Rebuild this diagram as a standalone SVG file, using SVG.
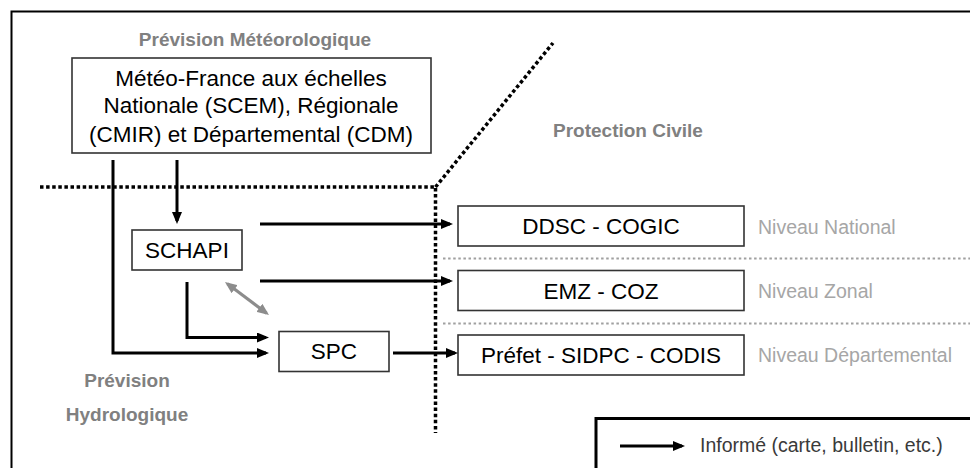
<svg xmlns="http://www.w3.org/2000/svg" width="970" height="468" viewBox="0 0 970 468">
<style>
  .box { fill: #fff; stroke: #333; stroke-width: 1.6; }
  .bt { font-family: "Liberation Sans", Arial, sans-serif; font-size: 22.5px; fill: #000; text-anchor: middle; }
  .lab { font-family: "Liberation Sans", Arial, sans-serif; font-size: 19px; font-weight: bold; fill: #808080; }
  .niv { font-family: "Liberation Sans", Arial, sans-serif; font-size: 19.5px; fill: #a6a6a6; }
  .leg { font-family: "Liberation Sans", Arial, sans-serif; font-size: 19.5px; fill: #3a3a3a; }
  .sep { fill: none; stroke: #000; stroke-width: 3.5; stroke-dasharray: 3.5 2.6; }
  .sepg { fill: none; stroke: #a0a0a0; stroke-width: 2.2; stroke-dasharray: 2.5 2.6; }
  .con { fill: none; stroke: #000; stroke-width: 3; marker-end: url(#ah); }
  .cong { fill: none; stroke: #8c8c8c; stroke-width: 3; marker-end: url(#ahg); marker-start: url(#ahg); }
</style>
<defs>
  <marker id="ah" viewBox="0 0 12 10" refX="9" refY="5" markerWidth="12" markerHeight="10" markerUnits="userSpaceOnUse" orient="auto">
    <path d="M0,0 L12,5 L0,10 z" fill="#000"/>
  </marker>
  <marker id="ahg" viewBox="0 0 12 10" refX="9" refY="5" markerWidth="12" markerHeight="10" markerUnits="userSpaceOnUse" orient="auto-start-reverse">
    <path d="M0,0 L12,5 L0,10 z" fill="#8c8c8c"/>
  </marker>
</defs>
<rect x="0" y="0" width="970" height="468" fill="#fff"/>
<rect x="11.5" y="11.5" width="1000" height="500" fill="none" stroke="#000" stroke-width="2"/>

<g id="separators">
  <path class="sep" d="M40,187 H435.5 V433"/>
  <path class="sep" d="M435.5,187 L553,43"/>
  <path class="sepg" d="M443,258.5 H970"/>
  <path class="sepg" d="M443,323.5 H970"/>
</g>

<g id="labels">
  <text class="lab" x="255" y="46" text-anchor="middle">Prévision Météorologique</text>
  <text class="lab" x="553" y="137">Protection Civile</text>
  <text class="lab" x="127" y="387" text-anchor="middle">Prévision</text>
  <text class="lab" x="127" y="421" text-anchor="middle">Hydrologique</text>
  <text class="niv" x="758" y="233.5">Niveau National</text>
  <text class="niv" x="758" y="297.5">Niveau Zonal</text>
  <text class="niv" x="758" y="362">Niveau Départemental</text>
</g>

<g id="meteo">
  <rect class="box" x="72" y="58" width="359" height="95"/>
  <text class="bt" x="251" y="85.5">Météo-France aux échelles</text>
  <text class="bt" x="251" y="113">Nationale (SCEM), Régionale</text>
  <text class="bt" x="251" y="141.5">(CMIR) et Départemental (CDM)</text>
</g>

<g id="schapi">
  <rect class="box" x="132" y="230" width="110" height="40"/>
  <text class="bt" x="187" y="258">SCHAPI</text>
</g>

<g id="spc">
  <rect class="box" x="279" y="331.5" width="110" height="40"/>
  <text class="bt" x="334" y="359">SPC</text>
</g>

<g id="ddsc">
  <rect class="box" x="458" y="206" width="286" height="40"/>
  <text class="bt" x="601" y="233.5">DDSC - COGIC</text>
</g>

<g id="emz">
  <rect class="box" x="458" y="270.5" width="286" height="40"/>
  <text class="bt" x="601" y="298.5">EMZ - COZ</text>
</g>

<g id="prefet">
  <rect class="box" x="458" y="335" width="286" height="40"/>
  <text class="bt" x="601" y="363">Préfet - SIDPC - CODIS</text>
</g>

<g id="connectors">
  <path class="con" d="M177,160 V221"/>
  <path class="con" d="M113,160 V353 H266"/>
  <path class="con" d="M187,282 V337.5 H266"/>
  <path class="con" d="M260,224 H450"/>
  <path class="con" d="M260,281 H450"/>
  <path class="con" d="M393,353 H455"/>
  <path class="cong" d="M227.4,283.8 L266.6,313.2"/>
</g>

<g id="legend">
  <rect x="596" y="418.5" width="400" height="100" fill="none" stroke="#000" stroke-width="3"/>
  <path class="con" d="M620,446 H682"/>
  <text class="leg" x="700" y="452">Informé (carte, bulletin, etc.)</text>
</g>
</svg>
